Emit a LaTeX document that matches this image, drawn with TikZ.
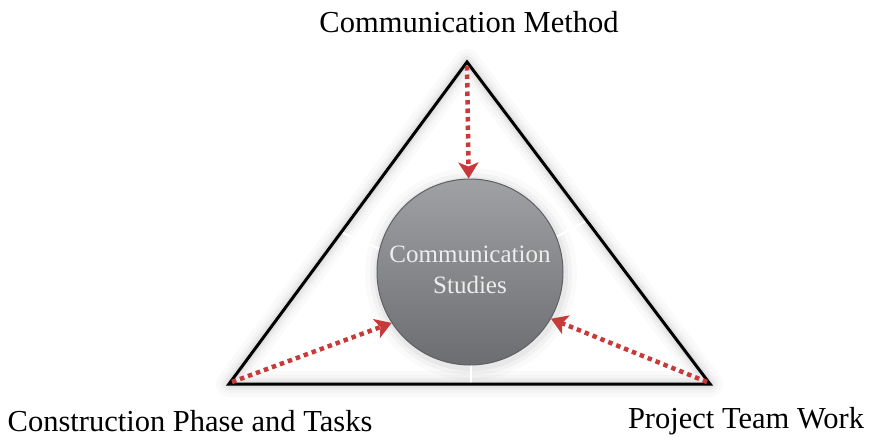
\documentclass[tikz,border=0pt]{standalone}
\usepackage{fontspec}
\setmainfont{Liberation Serif}
\usetikzlibrary{arrows.meta}
\definecolor{arrowred}{RGB}{200,58,58}
\definecolor{circtop}{RGB}{160,161,164}
\definecolor{circbot}{RGB}{108,109,112}
\definecolor{circedge}{RGB}{95,96,99}
\tikzset{
  redarrow/.style={draw=arrowred, line width=4.5pt, dash pattern=on 4.5pt off 4pt,
    -{Stealth[length=16pt,width=20pt,inset=4pt,fill=arrowred]}, shorten >=0pt},
  tick/.style={draw=white, line width=2.2pt},
  label/.style={font=\fontsize{30.5}{34}\selectfont, text=black, inner sep=0pt},
}
\begin{document}
\begin{tikzpicture}[x=1pt,y=-1pt]
\useasboundingbox (0,0) rectangle (871,440);
\fill[white] (0,0) rectangle (871,440);
% vertices
\coordinate (T) at (467,62);
\coordinate (L) at (229,384);
\coordinate (R) at (710,384);
% soft shadow inside and outside triangle
\foreach \w/\o in {26/0.02,18/0.025,12/0.03,7/0.04}{
  \draw[line width=\w pt, black, opacity=\o, line join=round] (T) -- (L) -- (R) -- cycle;
}
% circle shadow
\foreach \r/\o in {106/0.02,101/0.03,97/0.04}{
  \fill[black, opacity=\o] (471,274) circle (\r);
}
% white ticks
\draw[tick] (343,233) -- (382,250);
\draw[tick] (556,237) -- (586,221);
\draw[tick] (471,364) -- (471,384);
% triangle
\draw[black, line width=3pt, line join=miter] (T) -- (L) -- (R) -- cycle;
% circle
\node[circle, minimum size=186pt, inner sep=0pt, draw=circedge, line width=1pt,
  top color=circtop, bottom color=circbot] (C) at (470,272) {};
\node[text=white!93!black, font=\fontsize{25}{31}\selectfont, align=center] (CT) at (470,270)
  {Communication\\Studies};
% arrows
\coordinate (Ts) at (467,66);
\coordinate (Ls) at (232,382);
\coordinate (Rs) at (707,382);
\draw[redarrow] (Ts) -- (C);
\draw[redarrow] (Ls) -- (C.213);
\draw[redarrow] (Rs) -- (C.-30);
% labels
\node[label] (lt) at (469,22) {Communication Method};
\node[label] (ll) at (190,421) {Construction Phase and Tasks};
\node[label] (lr) at (746,421) {Project Team Work};
\end{tikzpicture}
\end{document}
